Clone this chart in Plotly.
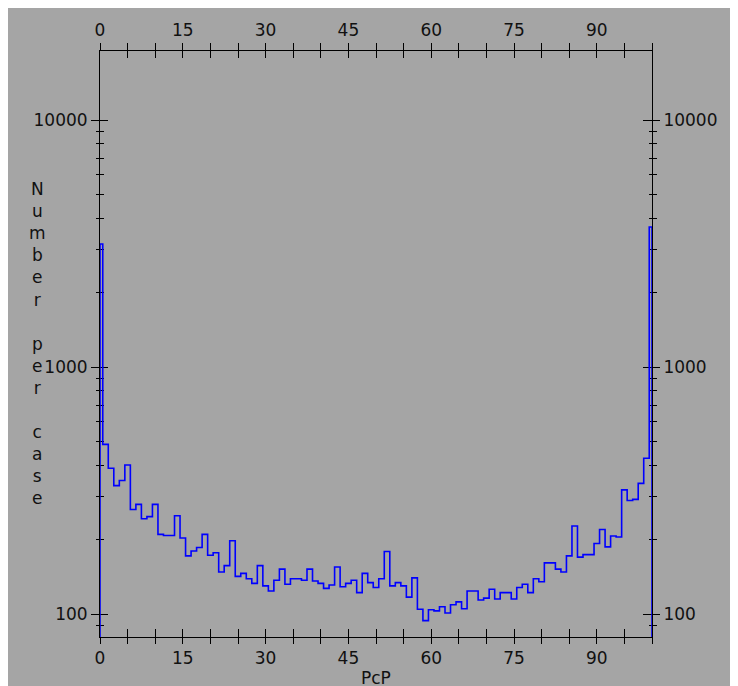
import plotly.graph_objects as go

# PcP histogram: integer-percent bins 0..100, bin width 1 centred on integers
pcp = list(range(0, 101))
counts = [3150, 486, 389, 331, 347, 401, 265, 278, 243, 248,
          278, 210, 208, 208, 250, 203, 172, 180, 186, 210,
          173, 177, 148, 157, 198, 142, 146, 139, 133, 157,
          130, 124, 137, 152, 132, 139, 139, 137, 152, 136,
          133, 127, 131, 155, 129, 133, 137, 122, 146, 134,
          128, 139, 179, 130, 134, 130, 117, 140, 104.5, 94,
          104, 103, 107, 101, 109, 112, 105, 124, 124, 114,
          116, 126, 115, 122, 122, 115, 128, 132, 122, 139,
          135, 161, 161, 152, 148, 172, 227, 170, 174, 174,
          193, 220, 187, 207, 205, 318, 288, 291, 338, 427,
          3690]
x_ticks = [0, 15, 30, 45, 60, 75, 90]
y_ticks = [100, 1000, 10000]
y_ticktext = ["100", "1000", "10000"]
y_minor = [90, 200, 300, 400, 500, 600, 700, 800, 900,
           2000, 3000, 4000, 5000, 6000, 7000, 8000, 9000]

BASE = 50  # below visible range (outline starts at the floor)

# step outline: left edges of each bin (clipped to the 0..100 axis)
xs = [0.0]
ys = [BASE]
for v, c in zip(pcp, counts):
    left = max(v - 0.5, 0.0)
    xs += [left, left]
    ys += [ys[-1], c]
right = 100.0
xs += [right, right]
ys += [counts[-1], BASE]

BG = "#a5a5a5"
FONT = dict(family="DejaVu Sans", size=17, color="#111111")
YR = [1.9069, 4.2794]
XR = [0, 100]

fig = go.Figure()
fig.add_trace(go.Scatter(x=xs, y=ys, mode="lines",
                         line=dict(color="#0000ff", width=1.6),
                         showlegend=False, hoverinfo="skip"))
for i in (2, 3, 4):
    fig.add_trace(go.Scatter(x=[None], y=[None], xaxis=f"x{i}", yaxis=f"y{i}",
                             showlegend=False, hoverinfo="skip"))

def xax(side, ticks, labels, tl, **kw):
    return dict(range=XR, side=side, showgrid=False, zeroline=False,
                showline=True, linecolor="black", linewidth=1,
                ticks=ticks, ticklen=tl, tickwidth=1, tickcolor="black",
                tickvals=x_ticks, showticklabels=labels, tickfont=FONT,
                minor=dict(dtick=5, tick0=0, ticks=ticks, ticklen=tl,
                           tickwidth=1, tickcolor="black"),
                layer="below traces", **kw)

def yax(side, ticks, labels, tl, **kw):
    return dict(type="log", range=YR, side=side, showgrid=False, zeroline=False,
                showline=True, linecolor="black", linewidth=1,
                ticks=ticks, ticklen=tl, tickwidth=1, tickcolor="black",
                tickvals=y_ticks, ticktext=y_ticktext,
                showticklabels=labels, tickfont=FONT,
                minor=dict(tickvals=y_minor, ticks=ticks, ticklen=3.5,
                           tickwidth=1, tickcolor="black"),
                layer="below traces", **kw)

fig.update_layout(
    width=738, height=686,
    margin=dict(l=92, r=94, t=43, b=57),
    paper_bgcolor=BG, plot_bgcolor=BG,
    font=FONT,
    xaxis=xax("bottom", "outside", True, 6),
    xaxis2=xax("bottom", "inside", False, 8, overlaying="x", anchor="y2"),
    xaxis3=xax("top", "outside", True, 7, overlaying="x", anchor="y3"),
    xaxis4=xax("top", "inside", False, 7, overlaying="x", anchor="y4"),
    yaxis=yax("left", "outside", True, 8),
    yaxis2=yax("left", "inside", False, 8, overlaying="y", anchor="x2"),
    yaxis3=yax("right", "outside", True, 7, overlaying="y", anchor="x3"),
    yaxis4=yax("right", "inside", False, 9, overlaying="y", anchor="x4"),
    annotations=[
        dict(text="N<br>u<br>m<br>b<br>e<br>r<br>\u00a0<br>p<br>e<br>r<br>\u00a0<br>c<br>a<br>s<br>e",
             xref="paper", yref="paper", x=-0.114, y=0.501,
             xanchor="center", yanchor="middle", showarrow=False,
             font=FONT, align="center"),
        dict(text="PcP", xref="paper", yref="paper", x=0.5, y=-0.07,
             xanchor="center", yanchor="middle", showarrow=False, font=FONT),
    ],
)

fig.write_html("out.html")
